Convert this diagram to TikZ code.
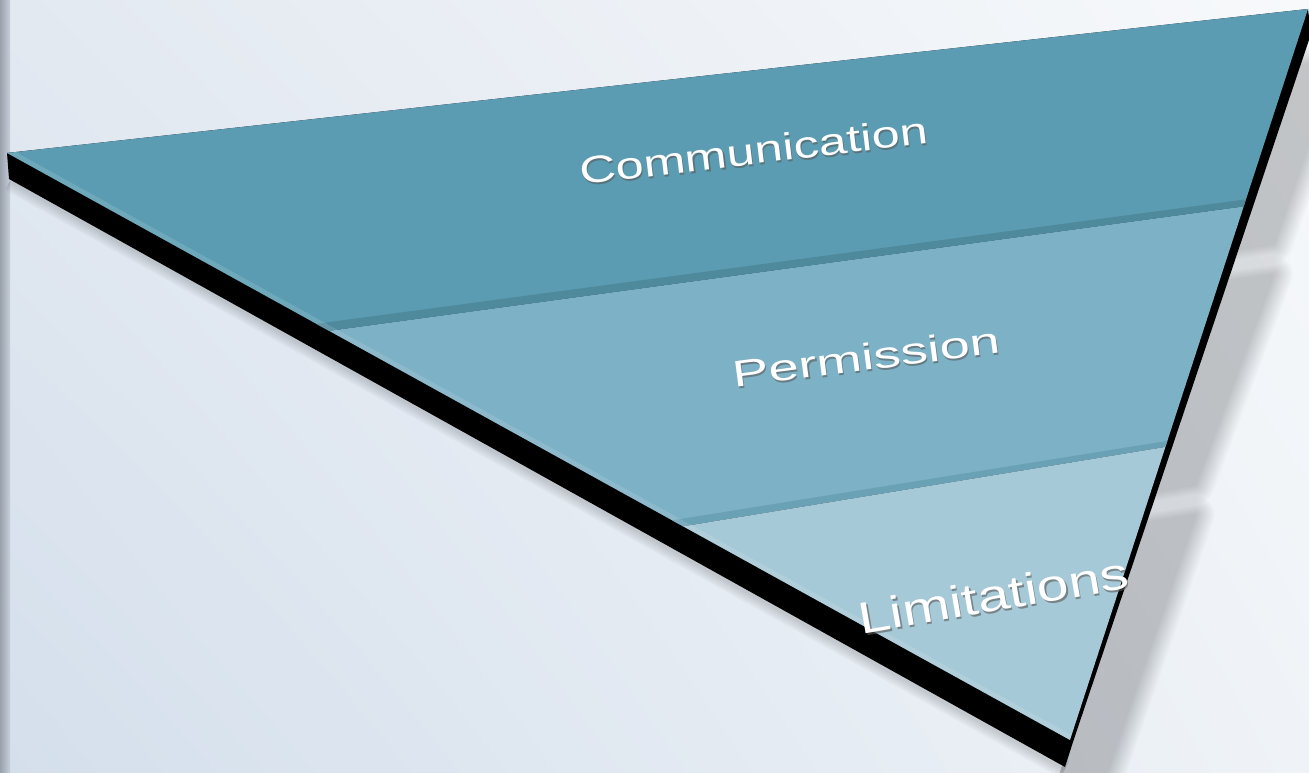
\documentclass[tikz,border=0pt]{standalone}
\usepackage{fontspec}
\setmainfont{Liberation Sans}
\usetikzlibrary{calc}
\usetikzlibrary{shadings}

\definecolor{bgul}{HTML}{E3E9F1}
\definecolor{bgur}{HTML}{F7F9FB}
\definecolor{bgll}{HTML}{D4DFEC}
\definecolor{bglr}{HTML}{EFF3F7}
\definecolor{barL}{HTML}{9AA1AB}
\definecolor{barM}{HTML}{838B96}
\definecolor{barR}{HTML}{C6CFDB}
\definecolor{commblue}{HTML}{5B9CB2}
\definecolor{permblue}{HTML}{7DB1C5}
\definecolor{limitblue}{HTML}{A6C9D7}
\definecolor{commedge}{HTML}{4C8699}
\definecolor{permedge}{HTML}{699FB3}

\begin{document}
\begin{tikzpicture}[
        x=0.02cm, y=-0.02cm,
        lbl/.style={text=white, inner sep=0pt, anchor=base},
        lblshadow/.style={text=black!65, inner sep=0pt, anchor=base, opacity=0.6},
        blur/.style={fill=black, draw=black, line join=round},
        blurlayer/.style={transparency group, opacity=0.016},
    ]
    \useasboundingbox (0,0) rectangle (1309,773);

    % background
    \shade[upper left=bgul, upper right=bgur, lower left=bgll, lower right=bglr]
        (0,0) rectangle (1309,773);
    \shade[left color=barL, middle color=barM, right color=barR] (0,0) rectangle (10,773);

    % corners of the triangle and band borders
    \coordinate (tl) at (7,153);
    \coordinate (tr) at (1308,9);
    \coordinate (tip) at (1070,740);
    \coordinate (a1) at ($(tl)!0.303!(tip)$);
    \coordinate (b1) at ($(tr)!0.27!(tip)$);
    \coordinate (a2) at ($(tl)!0.636!(tip)$);
    \coordinate (b2) at ($(tr)!0.599!(tip)$);

    % soft shadows right of the triangle
    \begin{scope}
        \clip ($(tr)!-0.2!(tip)$) -- ($(tip)!-0.2!(tr)$) -- (1500,1000) -- (1500,-200) -- cycle;
        \foreach \w in {2,5,...,38} {
            \begin{scope}[blurlayer]
                \draw[blur, line width=\w*0.57pt] ($(tl)+(30,52)$) -- ($(tr)+(30,52)$)
                    -- ($(b1)+(30,38)$) -- ($(a1)+(30,38)$) -- cycle;
            \end{scope}
            \begin{scope}[blurlayer]
                \draw[blur, line width=\w*0.57pt] ($(a1)+(30,68)$) -- ($(b1)+(30,68)$)
                    -- ($(b2)+(30,38)$) -- ($(a2)+(30,38)$) -- cycle;
            \end{scope}
            \begin{scope}[blurlayer]
                \draw[blur, line width=\w*0.57pt] ($(a2)+(30,68)$) -- ($(b2)+(30,68)$)
                    -- ($(tip)+(30,52)$) -- cycle;
            \end{scope}
        }
    \end{scope}
    \foreach \w in {4,8,...,20}
        \draw[black, opacity=0.03, line width=\w*0.57pt] ($(tl)+(3,28)$) -- ($(tip)+(-5,29)$);

    % black slab under the bands
    \fill[black] (tl) -- ($(tl)+(2,26)$) -- ($(tip)+(-5,27)$) -- ($(tip)+(3,2)$)
        -- ($(tr)+(3,25)$) -- (tr) -- cycle;

    % bands
    \fill[commblue] (tl) -- (tr) -- (b1) -- (a1) -- cycle;
    \fill[permblue] (a1) -- (b1) -- (b2) -- (a2) -- cycle;
    \fill[limitblue] (a2) -- (b2) -- (tip) -- cycle;

    % bevels
    \fill[commedge, opacity=0.85] (a1) -- (b1) -- ($(b1)+(2,-7)$) -- ($(a1)+(-13,-7)$) -- cycle;
    \fill[permedge, opacity=0.85] (a2) -- (b2) -- ($(b2)+(2,-6)$) -- ($(a2)+(-11,-6)$) -- cycle;
    \begin{scope}
        \clip (tl) -- (tr) -- (tip) -- cycle;
        \draw[white, opacity=0.12, line width=10*0.57pt] (tl) -- (tip);
    \end{scope}

    % labels
    \coordinate (commpos) at (755,164);
    \coordinate (permpos) at (868,370);
    \coordinate (limitpos) at (996,611);
    \node[lblshadow, rotate=6.8, yscale=0.75, font=\fontsize{28.7}{30}\selectfont]
        at ($(commpos)+(1.5,2)$) {Communication};
    \node[lbl, rotate=6.8, yscale=0.75, font=\fontsize{28.7}{30}\selectfont]
        (comm) at (commpos) {Communication};
    \node[lblshadow, rotate=7.4, yscale=0.68, font=\fontsize{31}{32}\selectfont]
        at ($(permpos)+(1.5,2)$) {Permission};
    \node[lbl, rotate=7.4, yscale=0.68, font=\fontsize{31}{32}\selectfont]
        (perm) at (permpos) {Permission};
    \node[lblshadow, rotate=9.8, yscale=0.78, font=\fontsize{32.5}{34}\selectfont]
        at ($(limitpos)+(1.5,2)$) {Limitations};
    \node[lbl, rotate=9.8, yscale=0.78, font=\fontsize{32.5}{34}\selectfont]
        (limit) at (limitpos) {Limitations};
\end{tikzpicture}
\end{document}
